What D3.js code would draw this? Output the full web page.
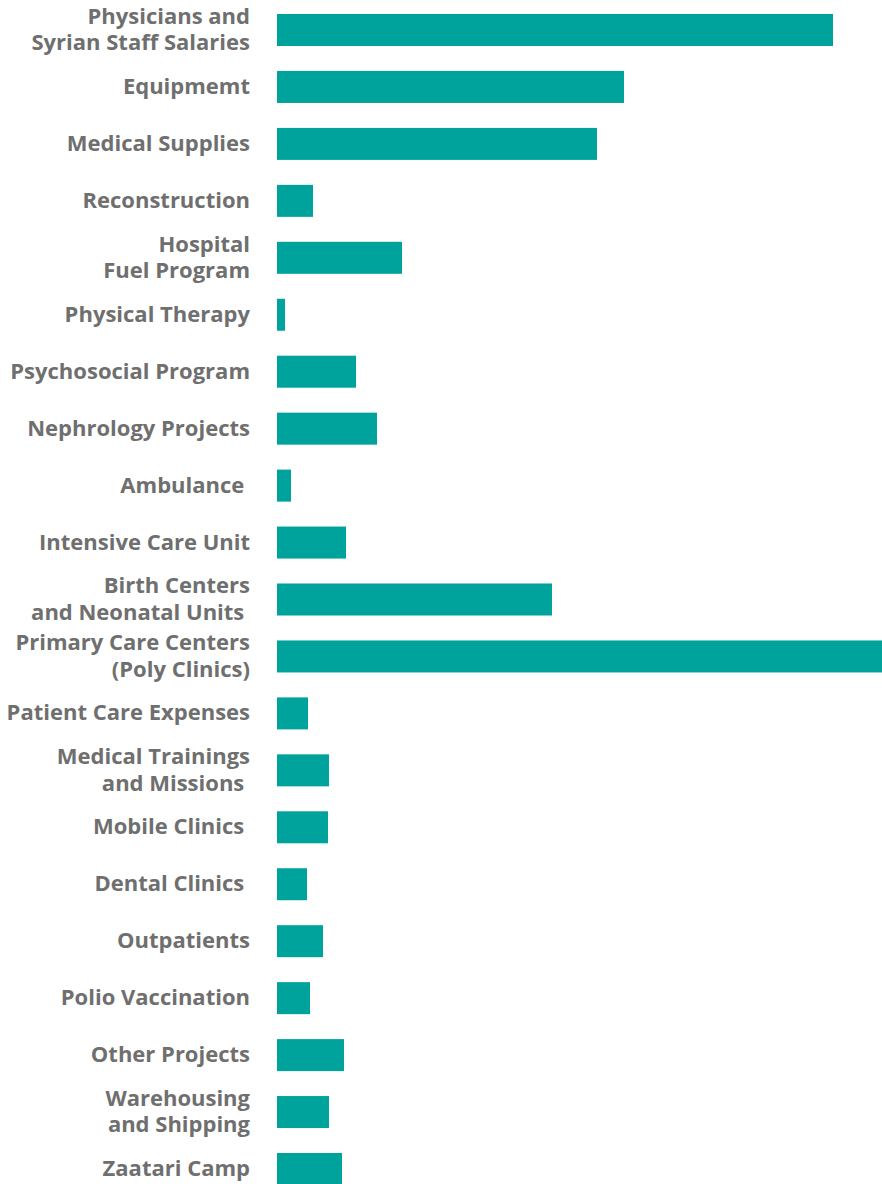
<!DOCTYPE html>
<html lang="en">
<head>
  <meta charset="UTF-8">
  <title>Spending by Program</title>
  <script src="https://d3js.org/d3.v7.min.js"></script>
  <style>
    body { margin: 0; background: #fff; }
    .label {
      font-family: "Open Sans", Arial, sans-serif;
      font-weight: 700;
      font-size: 22px;
      fill: #6f6f6f;
      white-space: pre;
    }
    .bar { fill: #00a39b; }
  </style>
</head>
<body>
  <svg id="chart" width="882" height="1184"></svg>

  <script>
    // categories (top to bottom), "\n" marks a line break in the label
    const categories = [
      "Physicians and\nSyrian Staff Salaries",
      "Equipmemt",
      "Medical Supplies",
      "Reconstruction",
      "Hospital\nFuel Program",
      "Physical Therapy",
      "Psychosocial Program",
      "Nephrology Projects",
      "Ambulance ",
      "Intensive Care Unit",
      "Birth Centers\nand Neonatal Units ",
      "Primary Care Centers\n(Poly Clinics)",
      "Patient Care Expenses",
      "Medical Trainings\nand Missions ",
      "Mobile Clinics ",
      "Dental Clinics ",
      "Outpatients",
      "Polio Vaccination",
      "Other Projects",
      "Warehousing\nand Shipping",
      "Zaatari Camp"
    ];

    // relative amounts
    const values = [556, 347, 320, 36, 125, 8, 79, 100, 14, 69, 275, 605, 31, 52, 51, 30, 46, 33, 67, 52, 65];

    const data = categories.map((c, i) => ({ name: c, value: values[i] }));

    const svg = d3.select("#chart");

    const x = d3.scaleLinear()
      .domain([0, 605])
      .range([277, 882]);

    const y = d3.scaleBand()
      .domain(categories)
      .range([14, 1185])
      .paddingInner(0.438)
      .paddingOuter(0);

    svg.selectAll(".bar")
      .data(data)
      .enter()
      .append("rect")
      .attr("class", "bar")
      .attr("x", x(0))
      .attr("y", d => y(d.name))
      .attr("width", d => x(d.value) - x(0))
      .attr("height", y.bandwidth());

    const lineH = 26.5;
    const labels = svg.selectAll(".label")
      .data(data)
      .enter()
      .append("text")
      .attr("class", "label")
      .attr("text-anchor", "end")
      .attr("x", 250)
      .attr("y", d => y(d.name) + y.bandwidth() / 2);

    labels.each(function (d) {
      const lines = d.name.split("\n");
      const t = d3.select(this);
      lines.forEach((l, i) => {
        t.append("tspan")
          .attr("x", 250)
          .attr("dy", i === 0 ? ((-(lines.length - 1) / 2) * lineH + 7) + "px" : lineH + "px")
          .text(l);
      });
    });
  </script>
</body>
</html>
